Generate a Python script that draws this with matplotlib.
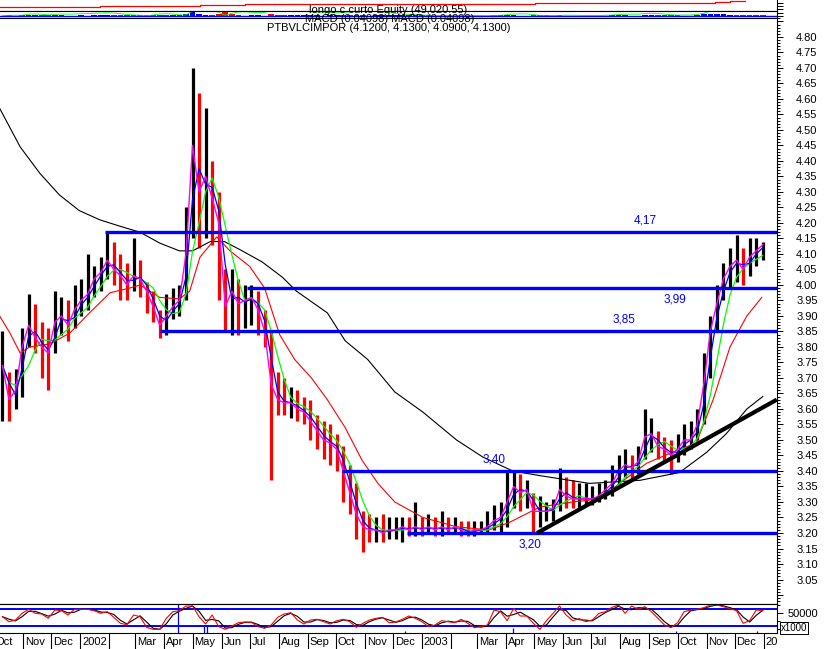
import matplotlib
matplotlib.use("Agg")
import matplotlib.pyplot as plt
import matplotlib.ticker as mticker
import numpy as np
import pandas as pd

plt.rcParams["font.family"] = ["Liberation Sans", "DejaVu Sans"]

# weekly bars (mid-week dates)
weeks = pd.date_range("2001-10-10", periods=117, freq="7D")
close = [
    3.74, 3.63, 3.66, 3.80, 3.87, 3.83, 3.80, 3.78, 3.88, 3.90,
    3.87, 3.92, 3.95, 3.97, 4.02, 4.04, 4.08, 4.05, 4.03, 4.00,
    4.03, 4.02, 3.98, 3.93, 3.87, 3.90, 3.93, 3.95, 4.10, 4.45,
    4.30, 4.35, 4.28, 4.20, 3.93, 3.98, 3.94, 3.95, 3.96, 3.92,
    3.85, 3.68, 3.63, 3.62, 3.62, 3.60, 3.59, 3.56, 3.53, 3.50,
    3.49, 3.47, 3.40, 3.33, 3.26, 3.22, 3.21, 3.21, 3.20, 3.21,
    3.21, 3.22, 3.21, 3.22, 3.21, 3.22, 3.21, 3.22, 3.21, 3.22,
    3.21, 3.20, 3.21, 3.21, 3.22, 3.24, 3.25, 3.30, 3.35, 3.33,
    3.34, 3.27, 3.27, 3.27, 3.28, 3.34, 3.32, 3.31, 3.31, 3.31,
    3.31, 3.32, 3.34, 3.36, 3.40, 3.42, 3.41, 3.43, 3.51, 3.52,
    3.48, 3.47, 3.45, 3.47, 3.50, 3.50, 3.55, 3.68, 3.85, 3.94,
    4.02, 4.06, 4.08, 4.05, 4.09, 4.11, 4.13,
]
high = [
    3.85, 3.72, 3.73, 3.86, 3.97, 3.94, 3.88, 3.86, 3.98, 3.96,
    3.95, 4.00, 4.02, 4.10, 4.06, 4.09, 4.17, 4.14, 4.10, 4.07,
    4.15, 4.08, 4.01, 3.98, 3.92, 3.97, 3.99, 4.00, 4.25, 4.70,
    4.62, 4.57, 4.40, 4.30, 4.05, 4.05, 4.02, 4.00, 4.00, 3.98,
    3.92, 3.85, 3.72, 3.70, 3.67, 3.66, 3.64, 3.63, 3.58, 3.56,
    3.55, 3.52, 3.48, 3.42, 3.36, 3.27, 3.26, 3.25, 3.26, 3.25,
    3.25, 3.25, 3.25, 3.30, 3.25, 3.26, 3.25, 3.27, 3.25, 3.25,
    3.24, 3.24, 3.24, 3.24, 3.27, 3.29, 3.30, 3.40, 3.40, 3.39,
    3.37, 3.33, 3.32, 3.30, 3.31, 3.41, 3.38, 3.37, 3.36, 3.36,
    3.35, 3.36, 3.37, 3.42, 3.45, 3.47, 3.45, 3.48, 3.60, 3.57,
    3.53, 3.51, 3.50, 3.52, 3.55, 3.56, 3.60, 3.78, 3.90, 4.00,
    4.07, 4.12, 4.16, 4.12, 4.15, 4.15, 4.14,
]
low = [
    3.56, 3.56, 3.60, 3.64, 3.80, 3.78, 3.70, 3.66, 3.78, 3.84,
    3.82, 3.86, 3.90, 3.92, 3.96, 3.98, 4.02, 4.00, 3.95, 3.95,
    3.98, 3.96, 3.91, 3.88, 3.83, 3.84, 3.89, 3.90, 3.95, 4.15,
    4.12, 4.15, 4.13, 3.95, 3.85, 3.84, 3.84, 3.86, 3.87, 3.84,
    3.80, 3.37, 3.58, 3.58, 3.57, 3.56, 3.55, 3.50, 3.47, 3.44,
    3.42, 3.40, 3.30, 3.26, 3.18, 3.14, 3.17, 3.17, 3.17, 3.18,
    3.18, 3.17, 3.19, 3.19, 3.19, 3.20, 3.19, 3.19, 3.20, 3.20,
    3.19, 3.19, 3.19, 3.20, 3.20, 3.21, 3.20, 3.22, 3.28, 3.27,
    3.28, 3.20, 3.22, 3.24, 3.24, 3.27, 3.28, 3.28, 3.28, 3.29,
    3.29, 3.30, 3.31, 3.32, 3.35, 3.38, 3.37, 3.39, 3.44, 3.46,
    3.44, 3.43, 3.39, 3.43, 3.45, 3.47, 3.50, 3.55, 3.70, 3.85,
    3.95, 3.99, 4.01, 4.00, 4.03, 4.06, 4.08,
]

# slow averages as drawn on the chart (they carry earlier history)
ma50_dates = ["2001-10-07", "2001-10-18", "2001-10-29", "2001-11-08", "2001-11-30",
              "2001-12-21", "2002-01-11", "2002-02-02", "2002-02-23", "2002-03-06",
              "2002-03-27", "2002-04-17", "2002-04-28", "2002-05-09", "2002-05-27",
              "2002-06-10", "2002-07-01", "2002-07-17", "2002-08-02", "2002-08-18",
              "2002-09-05", "2002-09-22", "2002-10-11", "2002-10-29", "2002-11-15",
              "2002-12-03", "2003-01-02", "2003-02-07", "2003-03-14", "2003-04-05",
              "2003-05-07", "2003-06-11", "2003-07-10", "2003-07-31", "2003-08-29",
              "2003-10-03", "2003-10-21", "2003-11-08", "2003-11-26", "2003-12-14",
              "2003-12-30"]
ma50 = [3.90, 3.845, 3.78, 3.80, 3.81, 3.845, 3.91, 3.975, 3.99, 4.00,
        3.96, 3.955, 3.98, 4.09, 4.155, 4.11, 4.06, 3.99, 3.84, 3.76,
        3.70, 3.63, 3.54, 3.435, 3.36, 3.30, 3.25, 3.22, 3.21, 3.235,
        3.284, 3.30, 3.31, 3.36, 3.425, 3.47, 3.49, 3.63, 3.80, 3.90,
        3.96]
ma200_dates = ["2001-10-07", "2001-10-29", "2001-11-19", "2001-12-10", "2001-12-31",
               "2002-01-22", "2002-02-12", "2002-03-06", "2002-03-27", "2002-04-17",
               "2002-05-01", "2002-05-20", "2002-06-04", "2002-06-20", "2002-07-14",
               "2002-08-05", "2002-08-20", "2002-09-22", "2002-10-11", "2002-11-04",
               "2002-12-03", "2003-01-02", "2003-02-07", "2003-03-07", "2003-04-08",
               "2003-05-07", "2003-06-29", "2003-08-22", "2003-10-03", "2003-11-01",
               "2003-11-22", "2003-12-14", "2003-12-31"]
ma200 = [4.57, 4.445, 4.36, 4.29, 4.24, 4.21, 4.19, 4.17, 4.135, 4.11,
         4.11, 4.14, 4.14, 4.115, 4.075, 4.025, 3.98, 3.91, 3.82, 3.76,
         3.655, 3.59, 3.50, 3.445, 3.40, 3.385, 3.36, 3.37, 3.395, 3.46,
         3.52, 3.60, 3.64]

# support / resistance levels and where each starts
levels = [4.17, 3.99, 3.85, 3.40, 3.20]
level_starts = ["2002-01-28", "2002-06-28", "2002-03-27", "2002-10-08", "2002-12-16"]
level_labels = ["4,17", "3,99", "3,85", "3,40", "3,20"]
label_dates = ["2003-08-28", "2003-09-28", "2003-08-05", "2003-03-19", "2003-04-26"]
label_above = [True, False, True, True, False]

trend_dates = ["2003-05-04", "2004-01-15"]
trend_vals = [3.20, 3.63]

# equity curve (top strip)
equity_dates = ["2001-10-07", "2002-01-11", "2002-01-22", "2002-05-09", "2002-06-26",
                "2003-05-02", "2003-09-07", "2003-11-10", "2003-11-26", "2003-12-12"]
equity = [30000, 28000, 33300, 35700, 38000, 41300, 43300, 46700, 49020.55, 49020.55]

# lower oscillator (x1000)
osc = [
    40800, 28300, 32500, 49200, 59200, 49200, 47500, 36700, 57500, 55800,
    45000, 59200, 59200, 59200, 55800, 49200, 53300, 39200, 24200, 20800,
    45000, 40800, 14200, 9200, 9200, 36700, 53300, 55800, 67500, 67500,
    40800, 22500, 45000, 15800, 9200, 17500, 25800, 27500, 26700, 15800,
    11700, 20000, 39200, 47500, 50800, 32500, 22500, 32500, 34200, 28300,
    22500, 30800, 34200, 28300, 14200, 24200, 32500, 36700, 39200, 25800,
    27500, 34200, 42500, 36700, 28300, 15800, 20000, 30800, 28300, 25800,
    34200, 24200, 13300, 15800, 20000, 57500, 53300, 30800, 61700, 42500,
    42500, 24200, 9200, 30800, 49200, 67500, 45000, 30800, 35800, 28300,
    32500, 49200, 53300, 64200, 70000, 49200, 67500, 59200, 65800, 53300,
    36700, 20000, 13300, 25800, 53300, 57500, 59200, 63300, 70000, 70000,
    65800, 60800, 55800, 24200, 30800, 57500, 55800,
]
osc_levels = [60000, 17500]
spike_dates = ["2002-04-16", "2002-05-13", "2002-05-16", "2002-12-14",
               "2003-04-08", "2003-09-29", "2003-12-25"]
spike_vals = [72500, 20000, 20000, 4000, 12500, 5000, 5000]

W, H = 825, 649
x0, x1 = pd.Timestamp("2001-10-07 10:00"), pd.Timestamp("2004-01-15 05:00")
right = 777 / W

fig = plt.figure(figsize=(W / 100, H / 100), dpi=100)
ax_eq = fig.add_axes([0, 1 - 10.7 / H, right, 10.7 / H])
ax_macd = fig.add_axes([0, 1 - 18 / H, right, 7.3 / H])
ax = fig.add_axes([0, 1 - 604 / H, right, 586 / H])
ax_osc = fig.add_axes([0, 1 - 633 / H, right, 29 / H])
ax_lab = fig.add_axes([0, 0, right, 16 / H])

for a in (ax_eq, ax_macd, ax, ax_osc):
    a.set_xlim(x0, x1)
    a.spines["left"].set_visible(False)
    for s in ("top", "bottom", "right"):
        a.spines[s].set_linewidth(0.8)
    a.yaxis.tick_right()
    a.tick_params(axis="x", which="both", bottom=False, labelbottom=False)
    a.tick_params(axis="y", which="major", length=4.3, width=0.7, pad=9.5,
                  labelsize=8, direction="out")
    a.tick_params(axis="y", which="minor", length=2.2, width=0.7, direction="out")

# price bars
c = pd.Series(close)
up = c >= c.shift(1).fillna(c.iloc[0])
bar_colors = np.where(up, "black", "#ff0000")
ax.vlines(weeks, low, high, colors=bar_colors, lw=2.3, zorder=2)

ax.plot(pd.to_datetime(ma200_dates), ma200, color="black", lw=0.8, zorder=3)
ax.plot(pd.to_datetime(ma50_dates), ma50, color="#ff0000", lw=0.8, zorder=3)
ax.plot(weeks, c.rolling(4, min_periods=1).mean(), color="#00ff00", lw=0.9, zorder=3)
ax.plot(weeks, c.rolling(2, min_periods=1).mean(), color="#0000ff", lw=0.9, zorder=3)
ax.plot(weeks, c, color="#ff00ff", lw=1.0, zorder=3)

for lv, st, txt, ld, above in zip(levels, level_starts, level_labels,
                                  label_dates, label_above):
    ax.hlines(lv, pd.Timestamp(st), x1, colors="#0000ff", lw=2.4, zorder=4)
    ax.annotate(txt, (pd.Timestamp(ld), lv), xytext=(0, 4 if above else -4),
                textcoords="offset points", ha="center",
                va="bottom" if above else "top", color="#0000ff", fontsize=8.5)

ax.plot(pd.to_datetime(trend_dates), trend_vals, color="black", lw=3.0,
        solid_capstyle="butt", zorder=5)

ax.set_ylim(2.971, 4.861)
ax.yaxis.set_major_locator(mticker.FixedLocator(np.round(np.arange(3.00, 4.851, 0.05), 2)))
ax.yaxis.set_minor_locator(mticker.MultipleLocator(0.01))
ax.yaxis.set_major_formatter(mticker.FuncFormatter(
    lambda v, p: f"{v:.2f}" if 3.04 < v < 4.81 else ""))

# equity strip
ax_eq.plot(pd.to_datetime(equity_dates), equity, color="#ff0000", lw=0.9,
           drawstyle="steps-post")
ax_eq.set_ylim(16650, 52357)
ax_eq.set_yticks([22000, 32000, 42000])
ax_eq.set_yticklabels([])
ax_eq.spines["top"].set_visible(False)

# macd strip
ema_fast = c.ewm(span=3).mean()
ema_slow = c.ewm(span=6).mean()
macd = ema_fast - ema_slow
signal = macd.ewm(span=3).mean()
hist = macd - signal
ax_macd.bar(weeks, hist.abs(), width=6, color=np.where(hist >= 0, "#0000ff", "#ff0000"))
ax_macd.plot(weeks, signal.abs(), color="#00ff00", lw=0.6)
ax_macd.axhline(0, color="#0000ff", lw=1.0)
ax_macd.set_ylim(-0.03, 0.066)
ax_macd.set_yticks([0.0, 0.04])
ax_macd.set_yticklabels([])

# oscillator
o = pd.Series(osc)
ax_osc.vlines(pd.to_datetime(spike_dates), 0, spike_vals, colors="#0000ff", lw=0.9)
for lv in osc_levels:
    ax_osc.axhline(lv, color="#0000ff", lw=1.4)
ax_osc.plot(weeks, o.rolling(2, min_periods=1).mean(), color="black", lw=0.8)
ax_osc.plot(weeks, o, color="#ff0000", lw=0.8)
ax_osc.set_ylim(0, 72500)
ax_osc.set_yticks([50000])
ax_osc.set_yticklabels(["50000"])
ax_osc.tick_params(axis="y", which="major", pad=3.5, labelsize=8)
ax_osc.yaxis.set_minor_locator(mticker.FixedLocator([10000, 30000, 70000]))

# month labels
ax_lab.set_xlim(x0, x1)
ax_lab.set_ylim(0, 1)
ax_lab.axis("off")
for m in pd.date_range("2001-10-01", "2004-01-01", freq="MS"):
    ax_lab.axvline(m, color="black", lw=0.8)
    if m.month == 1:
        lab = str(m.year)
    elif m.month == 2:
        lab = ""
    else:
        lab = m.strftime("%b")
    ax_lab.text(m + pd.Timedelta(days=2), 0.45, lab, ha="left", va="center",
                fontsize=8, clip_on=True)

fig.text(781 / W, 1 - 628 / H, "x1000", fontsize=7, ha="left", va="center",
         bbox=dict(boxstyle="square,pad=0.1", fc="white", ec="black", lw=0.7))

fig.text(388 / W, 1 - 10 / H, "longo c curto Equity (49,020.55)", ha="center",
         va="center", fontsize=8)
fig.text(390 / W, 1 - 19 / H, "MACD (0.04098) MACD (0.04098)", ha="center",
         va="center", fontsize=8)
fig.text(389 / W, 1 - 28 / H, "PTBVLCIMPOR (4.1200, 4.1300, 4.0900, 4.1300)",
         ha="center", va="center", fontsize=8)

fig.savefig("out.png", dpi=100)
